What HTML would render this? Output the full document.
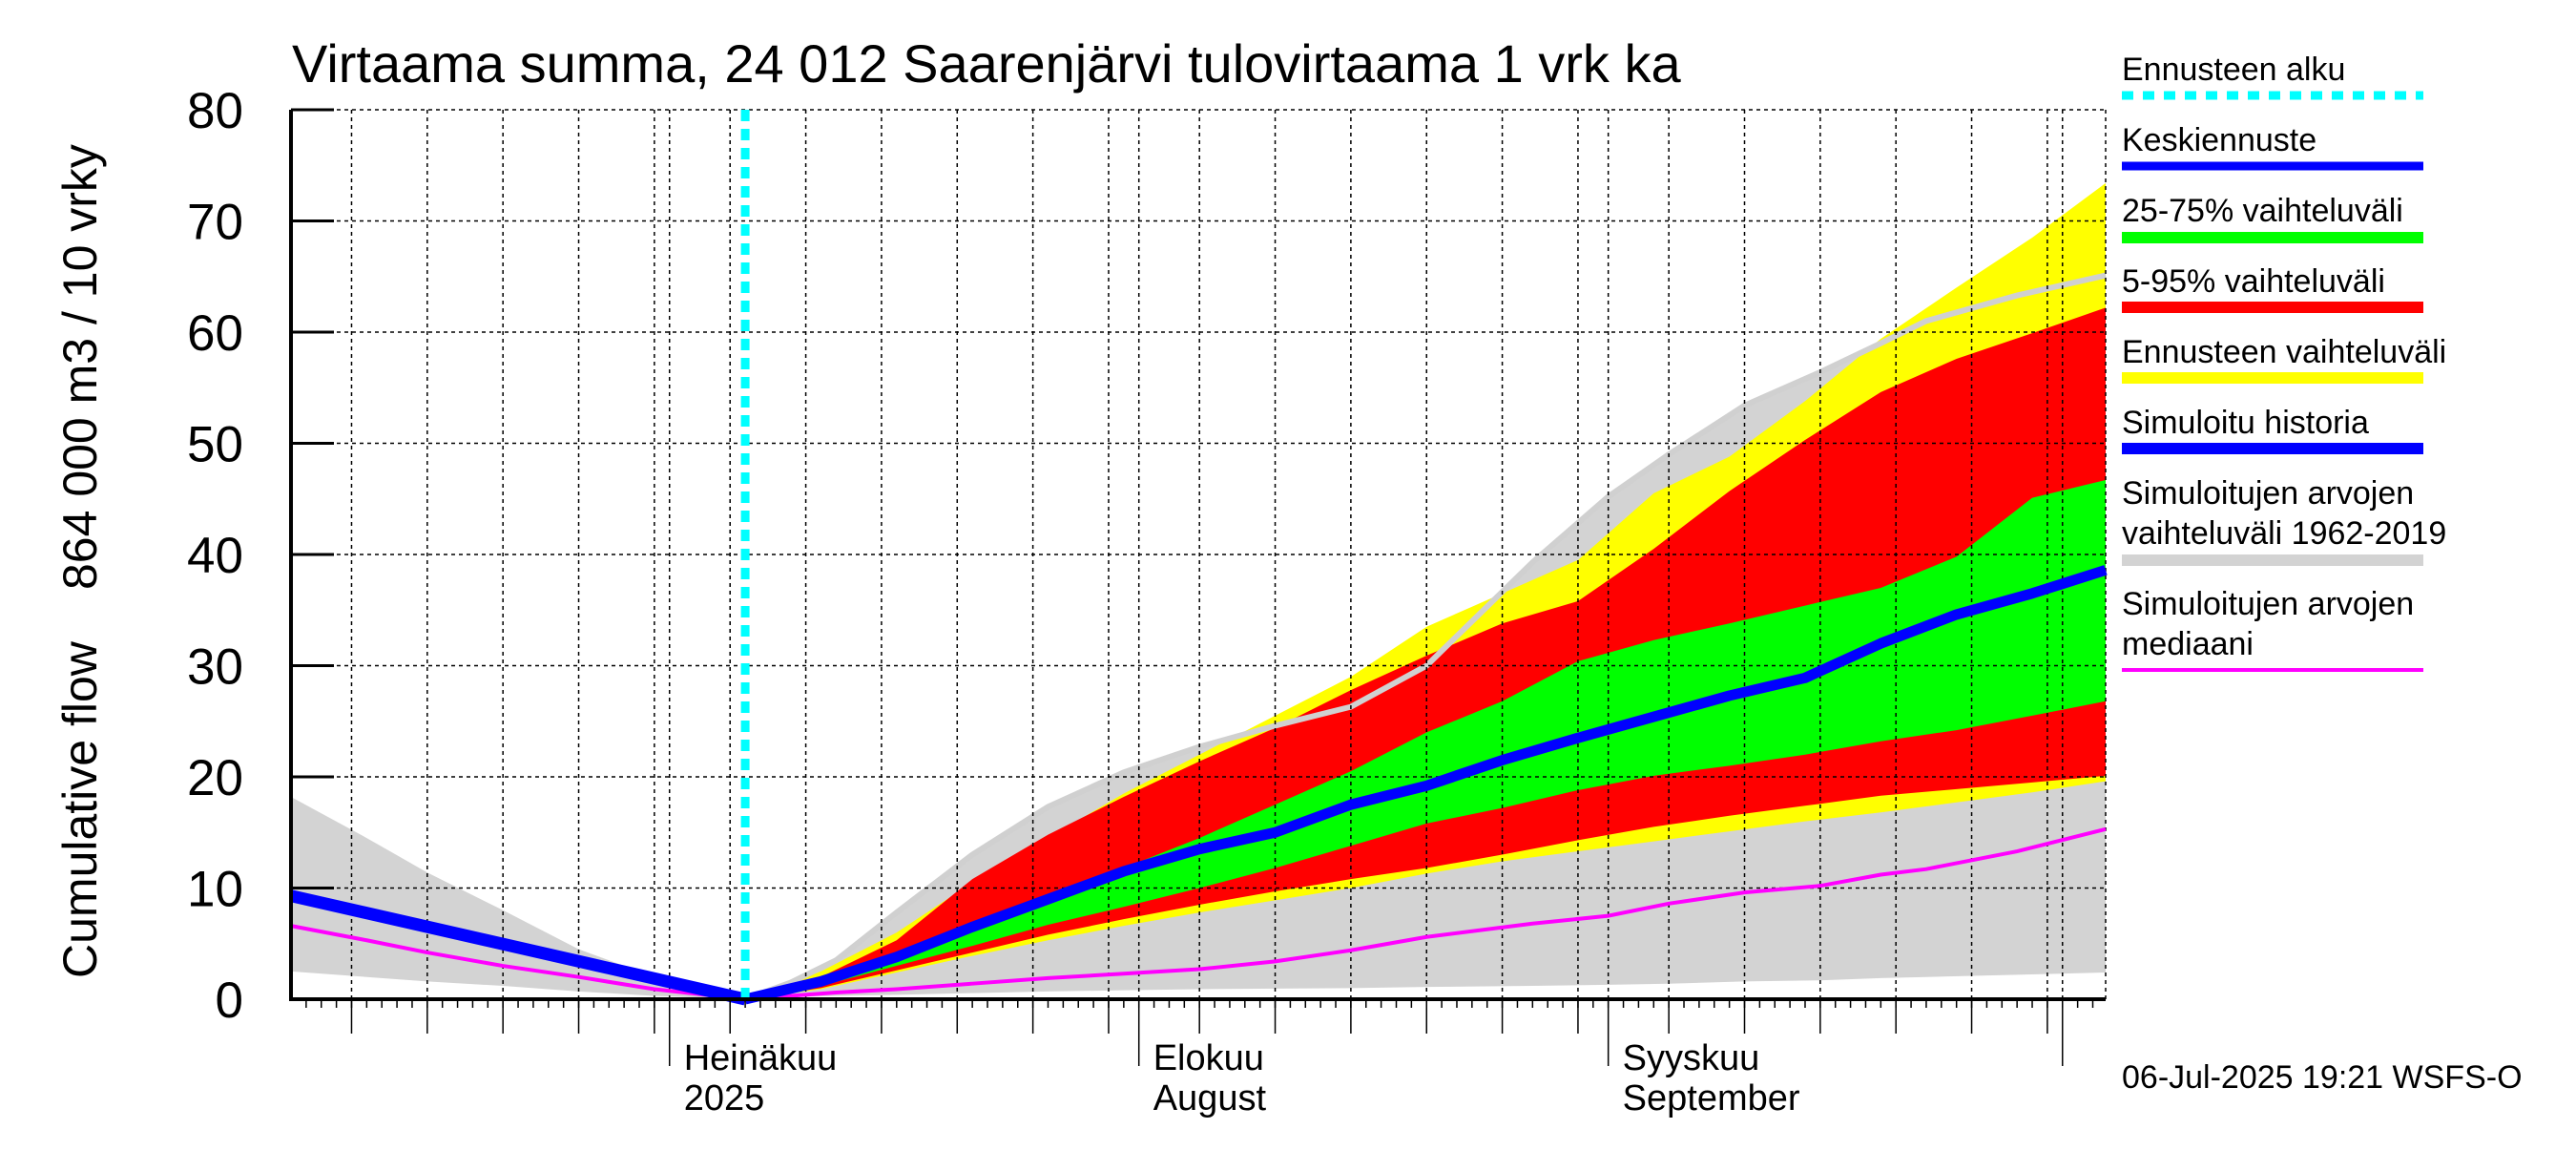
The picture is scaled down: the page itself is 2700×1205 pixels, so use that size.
<!DOCTYPE html>
<html><head><meta charset="utf-8"><style>
body{margin:0;background:#fff}
svg text{font-family:"Liberation Sans",Arial,sans-serif;fill:#000}
</style></head><body>
<svg id="chart" width="2700" height="1200" viewBox="0 0 2700 1200" xmlns="http://www.w3.org/2000/svg">
<rect width="2700" height="1200" fill="#fff"/>
<g id="bands"></g>
<g id="grid"></g>
<g id="lines"></g>
<g id="axes"></g>
<text x="306" y="86" font-size="56">Virtaama summa, 24 012 Saarenjärvi tulovirtaama 1 vrk ka</text>
<text transform="translate(101,1025) rotate(-90)" font-size="50">Cumulative flow</text>
<text transform="translate(101,618) rotate(-90)" font-size="50">864 000 m3 / 10 vrky</text>
<g id="legend"></g>
<text x="2224" y="1140" font-size="34">06-Jul-2025 19:21 WSFS-O</text>
</svg>
<script>
const simDays=[0,5,9,14,19,24,30,33,36,40,45,50,55,60,65,70,75,82,87,91,96,101,105,108,114,119.85];
const simUpper=[18.2,14.5,11.4,8,4.5,2,0,1.5,3.5,7.8,13,17.3,20.4,22.7,24.6,26.3,30,39.3,45.2,49,53.4,56.4,59,61,63.3,65.1];
const simLower=[2.5,2.0,1.6,1.2,0.7,0.3,0,0.2,0.3,0.4,0.55,0.7,0.8,0.9,0.95,1.0,1.1,1.2,1.3,1.4,1.6,1.7,1.9,2.0,2.2,2.4];
const simMedian=[6.6,5.3,4.2,3.0,2.0,0.9,0,0.3,0.6,0.9,1.4,1.9,2.3,2.7,3.4,4.4,5.6,6.8,7.5,8.6,9.6,10.2,11.2,11.7,13.3,15.3];
const histDays=[0,10,20,30];
const histValues=[9.3,6.2,3.1,0];
const fcDays=[30,35,40,45,50,55,60,65,70,75,80,85,90,95,100,105,110,115,119.85];
const yellowUpper=[0,2.5,6,10.5,14.5,18.5,22,25.5,29,33.5,36.5,39.5,45.5,48.8,53.8,59.4,64,68.5,73.4];
const redUpper=[0,2,5.3,10.8,14.8,18.2,21.4,24.4,27.8,30.9,33.8,35.8,40.5,45.7,50.3,54.6,57.6,59.9,62.2];
const greenUpper=[0,1.5,3.8,6.8,9.3,11.8,14.5,17.5,20.5,24,26.8,30.4,32.3,33.8,35.4,37,39.8,45.1,46.7];
const median=[0,1.6,3.8,6.5,9,11.5,13.5,15,17.5,19.2,21.5,23.5,25.4,27.3,28.9,32,34.6,36.5,38.6];
const greenLower=[0,1.2,3,4.8,6.7,8.3,10,11.8,13.8,15.8,17.2,18.8,20.1,21,22,23.2,24.2,25.5,26.8];
const redLower=[0,1,2.6,4.2,5.8,7.2,8.5,9.7,10.8,11.8,13,14.3,15.5,16.5,17.4,18.3,18.9,19.5,20.1];
const yellowLower=[0,0.9,2.4,3.9,5.3,6.6,7.8,8.9,10,11.3,12.4,13.3,14.2,15.1,16,16.8,17.7,18.6,19.6];
const yTicks=[0,10,20,30,40,50,60,70,80];
const forecastStartDay=30;
const monthDays=[25,56,87,117];
const monthLabels=[["Heinäkuu","2025"],["Elokuu","August"],["Syyskuu","September"]];

const X0=305,X1=2207,Y0=1047,Y1=115,DAYS=119.85,VMAX=80;
const xs=d=>X0+d*(X1-X0)/DAYS;
const ys=v=>Y0-v*(Y0-Y1)/VMAX;
const NS="http://www.w3.org/2000/svg";
function mk(tag,parent,attrs){const e=document.createElementNS(NS,tag);for(const k in attrs)e.setAttribute(k,attrs[k]);document.getElementById(parent).appendChild(e);return e;}
function band(days,up,lo){let p=days.map((d,i)=>xs(d)+","+ys(up[i]));for(let i=days.length-1;i>=0;i--)p.push(xs(days[i])+","+ys(lo[i]));return p.join(" ");}
function line(days,v){return days.map((d,i)=>xs(d)+","+ys(v[i])).join(" ");}

let e;
e=mk("polygon","bands",{points:band(simDays,simUpper,simLower),fill:"#d3d3d3"});


e=mk("polygon","bands",{points:band(fcDays,yellowUpper,yellowLower),fill:"#ffff00"});


e=mk("polygon","bands",{points:band(fcDays,redUpper,redLower),fill:"#ff0000"});


e=mk("polygon","bands",{points:band(fcDays,greenUpper,greenLower),fill:"#00ff00"});


e=mk("polyline","bands",{points:line(simDays.slice(6),simUpper.slice(6)),fill:"none",stroke:"#d0d0d0","stroke-width":6});



for(const v of yTicks){
  e=mk("line","grid",{x1:X0,x2:X1,y1:ys(v),y2:ys(v),stroke:"#000","stroke-width":1.5,"stroke-dasharray":"4,4"});
  
  
}
const gridDays=[];
const mStarts=[[-25,31],[0,31],[31,31],[62,30],[92,31]];
for(const [off,len] of mStarts){
  for(let k=5;k<=30;k+=5){const d=25+off+k-1;if(d>0&&d<DAYS)gridDays.push(d);}
}
for(const d of gridDays.concat(monthDays)){
  e=mk("line","grid",{x1:xs(d),x2:xs(d),y1:Y1,y2:Y0,stroke:"#000","stroke-width":1.5,"stroke-dasharray":"4,4"});
  
  
}
e=mk("line","grid",{x1:X1,x2:X1,y1:Y1,y2:Y0,stroke:"#000","stroke-width":1.5,"stroke-dasharray":"4,4"});



e=mk("polyline","lines",{points:line(simDays,simMedian),fill:"none",stroke:"#ff00ff","stroke-width":4});


e=mk("polyline","lines",{points:line(histDays,histValues),fill:"none",stroke:"#0000ff","stroke-width":13});


e=mk("polyline","lines",{points:line(fcDays,median),fill:"none",stroke:"#0000ff","stroke-width":11,"stroke-linejoin":"round"});


e=mk("line","lines",{x1:xs(forecastStartDay),x2:xs(forecastStartDay),y1:Y1,y2:Y0,stroke:"#00ffff","stroke-width":9,"stroke-dasharray":"12,8"});



e=mk("line","axes",{x1:X0,x2:X0,y1:Y1,y2:Y0+2,stroke:"#000","stroke-width":4});


e=mk("line","axes",{x1:X0,x2:X1,y1:Y0,y2:Y0,stroke:"#000","stroke-width":4});


for(const v of yTicks){
  e=mk("line","axes",{x1:X0,x2:X0+45,y1:ys(v),y2:ys(v),stroke:"#000","stroke-width":3});
  
  
  e=mk("text","axes",{x:255,y:ys(v)+19,"text-anchor":"end","font-size":53});
  e.textContent=v;
  
  
}
for(let d=1;d<DAYS;d++){
  e=mk("line","axes",{x1:xs(d),x2:xs(d),y1:Y0,y2:Y0+9,stroke:"#000","stroke-width":1.5});
  
  
}
for(const d of gridDays){
  e=mk("line","axes",{x1:xs(d),x2:xs(d),y1:Y0,y2:Y0+36,stroke:"#000","stroke-width":1.5});
  
  
}
monthDays.forEach((d,i)=>{
  e=mk("line","axes",{x1:xs(d),x2:xs(d),y1:Y0,y2:Y0+70,stroke:"#000","stroke-width":1.5});
  
  
  if(monthLabels[i]){
    e=mk("text","axes",{x:xs(d)+15,y:1121,"font-size":38});
    e.textContent=monthLabels[i][0];
    
    
    e=mk("text","axes",{x:xs(d)+15,y:1163,"font-size":38});
    e.textContent=monthLabels[i][1];
    
    
  }
});

const leg=[
 {t:["Ennusteen alku"],c:"#00ffff",y:84,ly:100,w:9,dash:"12,10",n:"legend-forecast-start"},
 {t:["Keskiennuste"],c:"#0000ff",y:158,ly:174,w:9,n:"legend-median-forecast"},
 {t:["25-75% vaihteluväli"],c:"#00ff00",y:232,ly:249,w:12,n:"legend-25-75"},
 {t:["5-95% vaihteluväli"],c:"#ff0000",y:306,ly:322,w:12,n:"legend-5-95"},
 {t:["Ennusteen vaihteluväli"],c:"#ffff00",y:380,ly:396,w:12,n:"legend-forecast-range"},
 {t:["Simuloitu historia"],c:"#0000ff",y:454,ly:470,w:12,n:"legend-simulated-history"},
 {t:["Simuloitujen arvojen","vaihteluväli 1962-2019"],c:"#d3d3d3",y:528,ly:587,w:12,n:"legend-simulated-range"},
 {t:["Simuloitujen arvojen","mediaani"],c:"#ff00ff",y:644,ly:702,w:4,n:"legend-simulated-median"}
];
for(const L of leg){
  L.t.forEach((s,i)=>{
    e=mk("text","legend",{x:2224,y:L.y+i*42,"font-size":34});
    e.textContent=s;
    
    
  });
  const a={x1:2224,x2:2540,y1:L.ly,y2:L.ly,stroke:L.c,"stroke-width":L.w};
  if(L.dash)a["stroke-dasharray"]=L.dash;
  e=mk("line","legend",a);
  
  
}
</script>
</body></html>
